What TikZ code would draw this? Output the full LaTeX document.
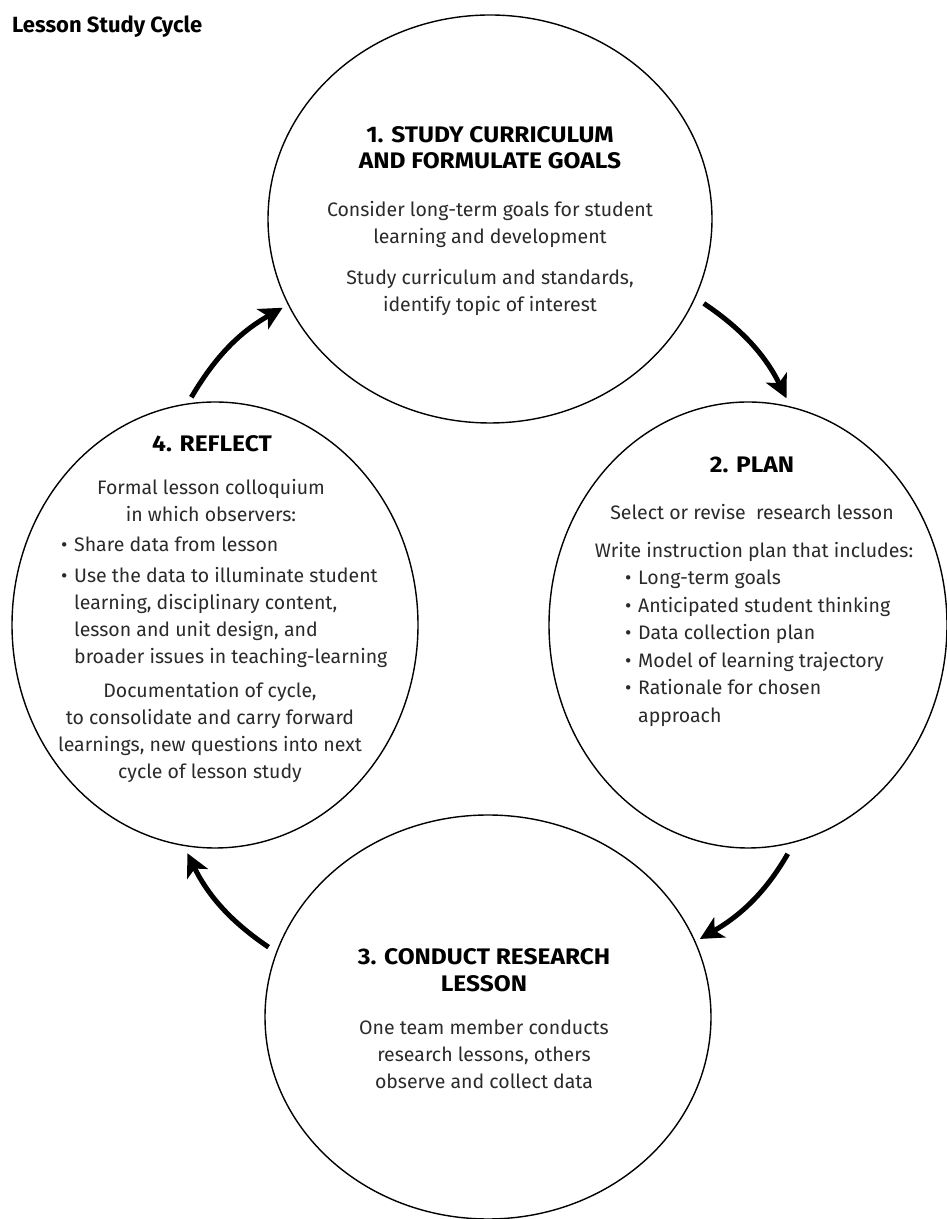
\documentclass[tikz,border=0pt]{standalone}
\usepackage{fontspec}
\setmainfont{Fira Sans}
\newfontfamily\headfam{Fira Sans}[FakeStretch=1.09]
\usetikzlibrary{shapes.geometric,arrows.meta}
\definecolor{bodygray}{HTML}{2A2A2A}
\newcommand\bodyf{\fontsize{19.5}{27}\selectfont\color{bodygray}}
\newcommand\headf{\headfam\fontsize{22.5}{26}\selectfont\bfseries\color{black}}
\newcommand\cblk[2]{\parbox[t]{#1}{\centering #2}}
\newcommand\lblk[2]{\parbox[t]{#1}{\raggedright #2}}
\newcommand\bul{\makebox[13pt][l]{•}}
\newcommand\hang{\hspace*{13pt}}
\begin{document}
\begin{tikzpicture}[x=1pt,y=1pt,
  ring/.style={draw=black, line width=1.4pt, ellipse, inner sep=0pt},
  cyc/.style={line width=5pt, -{Stealth[length=23pt,width=23pt,inset=6pt]}, bend left=15},
  body/.style={inner sep=0pt, anchor=base, font=\bodyf},
  bodyl/.style={inner sep=0pt, anchor=base west, font=\bodyf},
  head/.style={inner sep=0pt, anchor=base, font=\headf}]
\useasboundingbox (0,0) rectangle (946,1219);
\fill[white] (0,0) rectangle (946,1219);

% title
\node[inner sep=0pt, anchor=base west, font=\fontsize{22}{26}\selectfont\bfseries] (title) at (12,1186) {Lesson Study Cycle};

% circles
\node[ring, minimum width=444pt, minimum height=408pt] (c1) at (490,1000) {};
\node[ring, minimum width=398pt, minimum height=446pt] (c2) at (748,594) {};
\node[ring, minimum width=446pt, minimum height=404pt] (c3) at (488,202) {};
\node[ring, minimum width=406pt, minimum height=446pt] (c4) at (215,594) {};

% arrows
\draw[cyc, shorten <=7pt, shorten >=6pt] (c4.97) to (c1.203);
\draw[cyc, shorten <=10pt, shorten >=9pt] (c1.339) to (c2.79);
\draw[cyc, shorten <=13pt, shorten >=5pt] (c2.282) to (c3.20);
\draw[cyc, shorten <=9pt, shorten >=8pt] (c3.163) to (c4.262);

% circle 1
\node[head] (h1) at (490,1076) {\cblk{440pt}{1. STUDY CURRICULUM\\AND FORMULATE GOALS}};
\node[body] (t1a) at (490,1002) {\cblk{440pt}{Consider long-term goals for student\\learning and development}};
\node[body] (t1b) at (490,934) {\cblk{440pt}{Study curriculum and standards,\\identify topic of interest}};

% circle 2
\node[head] (h2) at (752,746) {2. PLAN};
\node[body] (t2a) at (752,699) {Select or revise~ research lesson};
\node[body] (t2b) at (754,661) {Write instruction plan that includes:};
\node[bodyl] (t2c) at (625,634) {\fontsize{19.5}{27.5}\selectfont\lblk{320pt}{\bul Long-term goals\\\bul Anticipated student thinking\\\bul Data collection plan\\\bul Model of learning trajectory\\\bul Rationale for chosen\\\hang approach}};

% circle 3
\node[head] (h3) at (484,254) {\cblk{440pt}{3. CONDUCT RESEARCH\\[1pt]LESSON}};
\node[body] (t3) at (484,184) {\cblk{440pt}{One team member conducts\\research lessons, others\\observe and collect data}};

% circle 4
\node[head] (h4) at (212,767) {4. REFLECT};
\node[body] (t4a) at (211,724) {\cblk{400pt}{Formal lesson colloquium\\in which observers:}};
\node[bodyl] (t4b) at (61,667) {\lblk{360pt}{\bul Share data from lesson}};
\node[bodyl] (t4c) at (61,636) {\lblk{360pt}{\bul Use the data to illuminate student\\\hang learning, disciplinary content,\\\hang lesson and unit design, and\\\hang broader issues in teaching-learning}};
\node[body] (t4d) at (210,521) {\cblk{400pt}{Documentation of cycle,\\to consolidate and carry forward\\learnings, new questions into next\\cycle of lesson study}};
\end{tikzpicture}
\end{document}
